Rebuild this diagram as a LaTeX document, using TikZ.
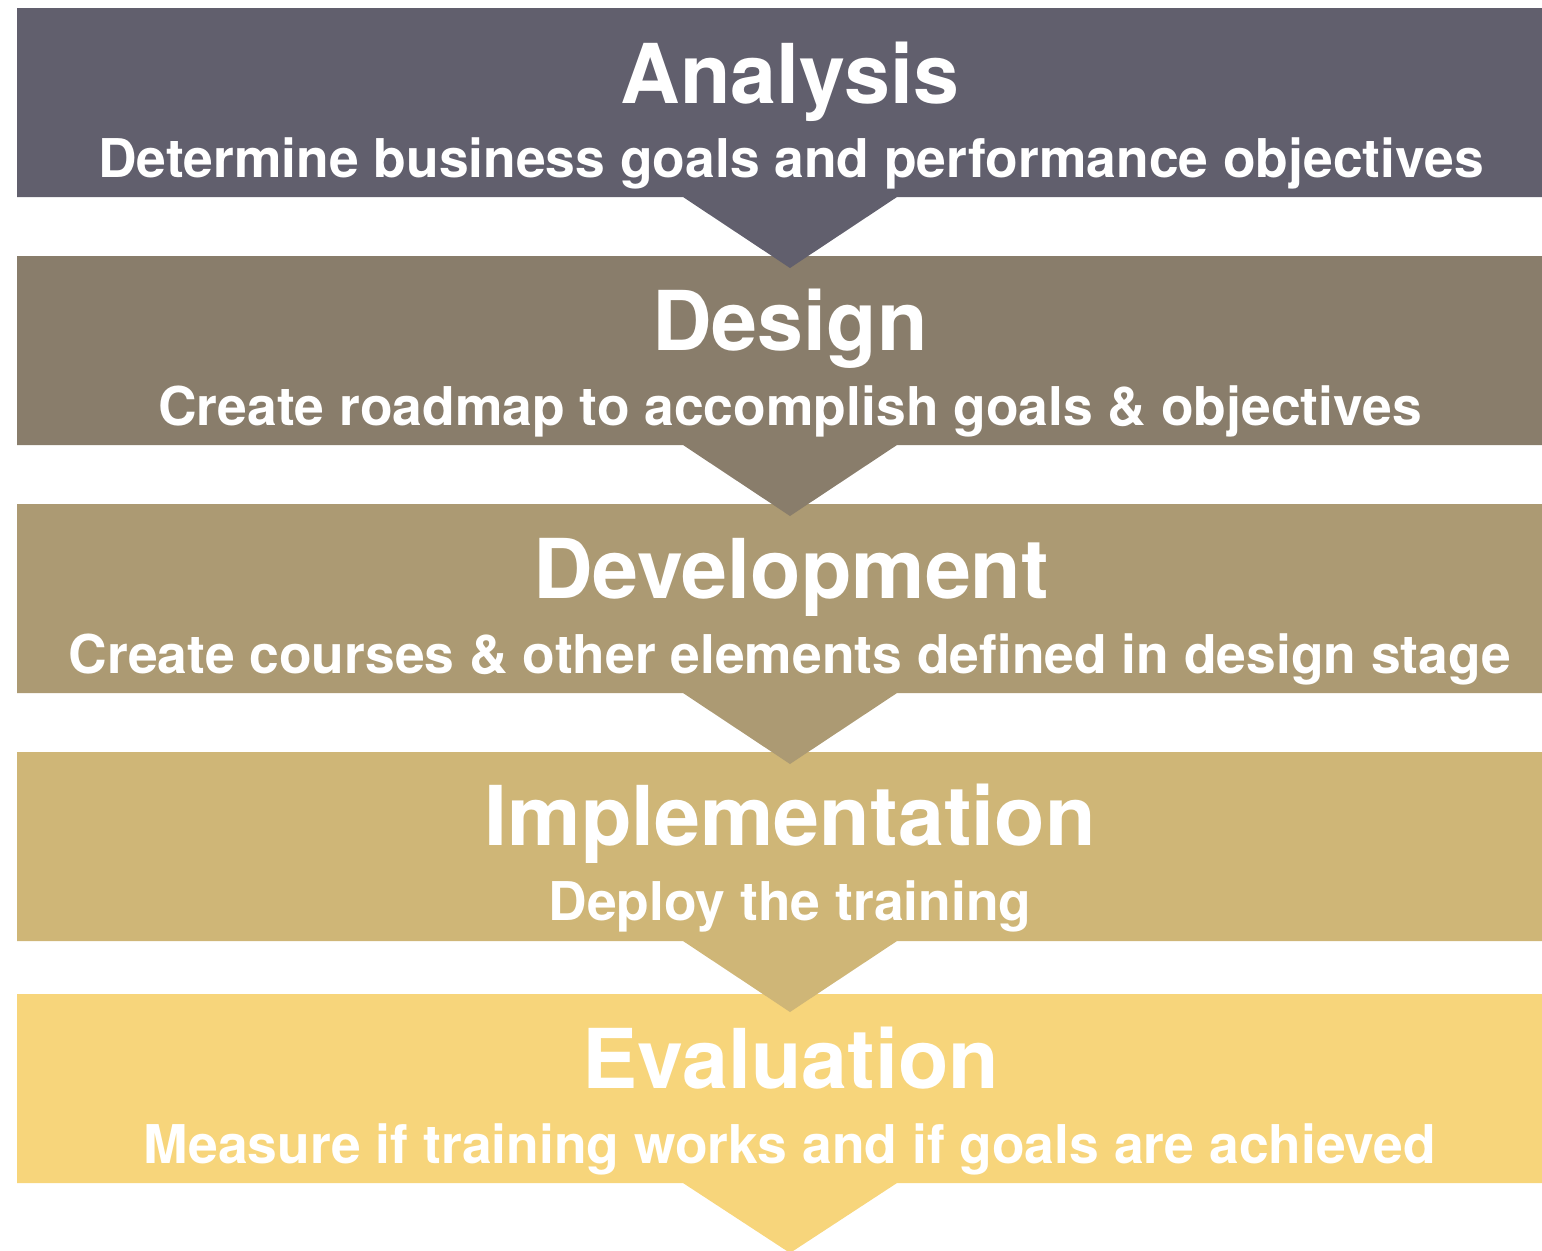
\documentclass[tikz,border=0pt]{standalone}
\usepackage{fontspec}
\setmainfont{TeX Gyre Heros}
\usepackage{tikz}
\usetikzlibrary{positioning}
\definecolor{analysiscol}{HTML}{615F6D}
\definecolor{designcol}{HTML}{897D6B}
\definecolor{developcol}{HTML}{AC9A73}
\definecolor{implementcol}{HTML}{CFB677}
\definecolor{evalcol}{HTML}{F7D57B}
\tikzset{
  stagetitle/.style={text=white,font=\bfseries\fontsize{47}{51}\selectfont,anchor=base,inner sep=0pt},
  stagetext/.style={text=white,font=\bfseries\fontsize{30.4}{34}\selectfont,anchor=base,inner sep=0pt}
}
\begin{document}
\begin{tikzpicture}[x=0.02cm,y=-0.02cm] %the ADDIE stages
    \useasboundingbox (0,0) rectangle (1542,1251);
%the bands, bottom one first so that each arrow lies on the next band
    \fill[evalcol] (17,994) -- (1542,994) -- (1542,1183) -- (897,1183) -- (790,1253) -- (683,1183) -- (17,1183) -- cycle;
    \fill[implementcol] (17,752) -- (1542,752) -- (1542,941) -- (897,941) -- (790,1012) -- (683,941) -- (17,941) -- cycle;
    \fill[developcol] (17,504) -- (1542,504) -- (1542,693) -- (897,693) -- (790,764) -- (683,693) -- (17,693) -- cycle;
    \fill[designcol] (17,256) -- (1542,256) -- (1542,445) -- (897,445) -- (790,516) -- (683,445) -- (17,445) -- cycle;
    \fill[analysiscol] (17,8) -- (1542,8) -- (1542,197) -- (897,197) -- (790,268) -- (683,197) -- (17,197) -- cycle;
%the stage names
    \node[stagetitle] (analysis) at (790,103) {Analysis};
    \node[stagetitle] (design) at (790,350) {Design};
    \node[stagetitle] (development) at (791,598) {Development};
    \node[stagetitle] (implementation) at (790,845) {Implementation};
    \node[stagetitle] (evaluation) at (791,1088) {Evaluation};
%what each stage does
    \node[stagetext] (analysisdo) at (791,177) {Determine business goals and performance objectives};
    \node[stagetext] (designdo) at (790,425) {Create roadmap to accomplish goals \& objectives};
    \node[stagetext] (developmentdo) at (790,673) {Create courses \& other elements defined in design stage};
    \node[stagetext] (implementationdo) at (790,920) {Deploy the training};
    \node[stagetext] (evaluationdo) at (790,1163) {Measure if training works and if goals are achieved};
\end{tikzpicture}
\end{document}
